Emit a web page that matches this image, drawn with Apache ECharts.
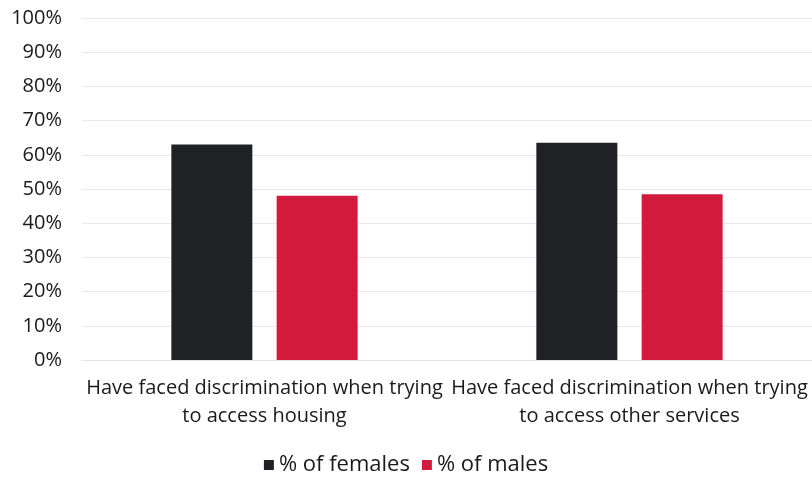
<!DOCTYPE html>
<html><head><meta charset="utf-8">
<script src="https://cdn.jsdelivr.net/npm/echarts@6/dist/echarts.min.js"></script>
<style>html,body{margin:0;padding:0;background:#fff}#c{width:812px;height:481px}</style>
</head><body><div id="c"></div>
<script>
const categories = ["Have faced discrimination when trying to access housing", "Have faced discrimination when trying to access other services"];
const females = [63, 63.5];
const males = [48, 48.5];
const seriesNames = ["% of females", "% of males"];
const yTicks = [0, 10, 20, 30, 40, 50, 60, 70, 80, 90, 100];

const font = "'Open Sans', 'Noto Sans', sans-serif";
const chart = echarts.init(document.getElementById('c'), null, {renderer: 'canvas'});
chart.setOption({
  animation: false,
  grid: {left: 82, right: 0, top: 18, bottom: 121},
  legend: {
    data: seriesNames, bottom: 0, left: 'center', itemWidth: 10, itemHeight: 10, itemGap: 12,
    icon: 'rect',
    textStyle: {fontFamily: font, fontSize: 22, color: '#1a1a1a'}
  },
  xAxis: {
    type: 'category', data: categories,
    axisLine: {show: true, lineStyle: {color: '#e4e4e4'}},
    axisTick: {show: false},
    axisLabel: {
      fontFamily: font, fontSize: 20, color: '#1a1a1a', lineHeight: 28, margin: 14, interval: 0,
      formatter: v => v.replace(' to ', '\nto ')
    }
  },
  yAxis: {
    type: 'value', min: yTicks[0], max: yTicks[yTicks.length - 1], interval: 10,
    axisLine: {show: false}, axisTick: {show: false},
    splitLine: {lineStyle: {color: '#e8e8e8'}},
    axisLabel: {fontFamily: font, fontSize: 20, color: '#1a1a1a', margin: 20, formatter: v => v + '%'}
  },
  series: [
    {name: seriesNames[0], type: 'bar', data: females, barWidth: 81, barGap: '30%', itemStyle: {color: '#202125'}},
    {name: seriesNames[1], type: 'bar', data: males, barWidth: 81, itemStyle: {color: '#d21a3d'}}
  ]
});
</script></body></html>
